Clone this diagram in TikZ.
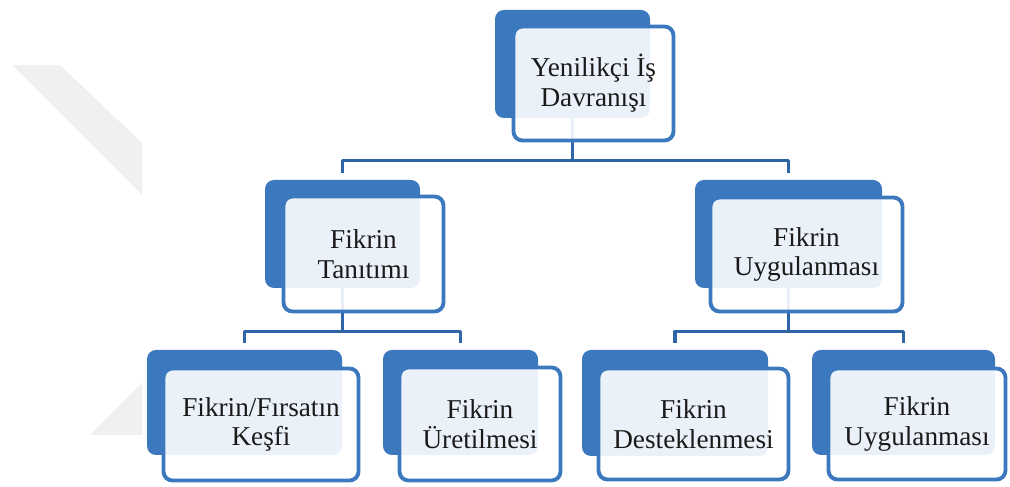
\documentclass[tikz,border=0pt]{standalone}
\usepackage{fontspec}
\setmainfont{Liberation Serif}
\definecolor{Blue}{HTML}{3C78BE}
\definecolor{Link}{HTML}{2F65A8}
\definecolor{Mark}{HTML}{F0F0F0}
\definecolor{Ink}{HTML}{1A1A1A}

\begin{document}
\begin{tikzpicture}[
      back/.style={fill=Blue,rounded corners=0.18cm,inner sep=0pt},
      front/.style={draw=Blue,line width=2.2pt,fill=white,fill opacity=0.9,text opacity=1,rounded corners=0.18cm,
        inner sep=0pt,align=center,text=Ink,font=\fontsize{15.5}{17}\selectfont},
      link/.style={draw=Link,line width=2pt,line join=round}]
      \useasboundingbox (0,0) rectangle (20.2,9.74);
      % faint mark on the left
      \fill[Mark] (0.24,8.44) -- (1.20,8.44) -- (2.84,6.88) -- (2.84,5.84) -- cycle;
      \fill[Mark] (2.84,2.08) -- (1.80,1.04) -- (2.84,1.04) -- cycle;
      % back boxes
      \node[back,minimum width=3.10cm,minimum height=2.16cm] (topb) at (11.45,8.46) {};
      \node[back,minimum width=3.10cm,minimum height=2.16cm] (tanb) at (6.85,5.06) {};
      \node[back,minimum width=3.74cm,minimum height=2.16cm] (uygb) at (15.77,5.06) {};
      \node[back,minimum width=3.90cm,minimum height=2.10cm] (kesb) at (4.89,1.69) {};
      \node[back,minimum width=3.10cm,minimum height=2.10cm] (uretb) at (9.21,1.69) {};
      \node[back,minimum width=3.72cm,minimum height=2.12cm] (desb) at (13.50,1.68) {};
      \node[back,minimum width=3.66cm,minimum height=2.10cm] (uyg2b) at (18.07,1.69) {};
      % connectors
      \draw[link] (topb.south) -- ++(0,-0.84) -| ([yshift=0.14cm]tanb.north);
      \draw[link] (topb.south) -- ++(0,-0.84) -| ([yshift=0.14cm]uygb.north);
      \draw[link] (tanb.south) -- ++(0,-0.86) -| ([yshift=0.14cm]kesb.north);
      \draw[link] (tanb.south) -- ++(0,-0.86) -| ([yshift=0.14cm]uretb.north);
      \draw[link] (uygb.south) -- ++(0,-0.86) -| ([yshift=0.14cm]desb.north);
      \draw[link] (uygb.south) -- ++(0,-0.86) -| ([yshift=0.14cm]uyg2b.north);
      % front boxes
      \node[front,minimum width=3.20cm,minimum height=2.28cm] (top) at (11.87,8.07) {Yenilikçi İş\\Davranışı};
      \node[front,minimum width=3.20cm,minimum height=2.30cm] (tan) at (7.27,4.66) {Fikrin\\Tanıtımı};
      \node[front,minimum width=3.84cm,minimum height=2.28cm] (uyg) at (16.13,4.65) {Fikrin\\Uygulanması};
      \node[front,minimum width=3.90cm,minimum height=2.24cm] (kes) at (5.22,1.25) {Fikrin/Fırsatın\\Keşfi};
      \node[front,minimum width=3.22cm,minimum height=2.26cm] (uret) at (9.60,1.26) {Fikrin\\Üretilmesi};
      \node[front,minimum width=3.80cm,minimum height=2.22cm] (des) at (13.87,1.26) {Fikrin\\Desteklenmesi};
      \node[front,minimum width=3.54cm,minimum height=2.22cm] (uyg2) at (18.34,1.26) {Fikrin\\Uygulanması};
    \end{tikzpicture}
\end{document}
